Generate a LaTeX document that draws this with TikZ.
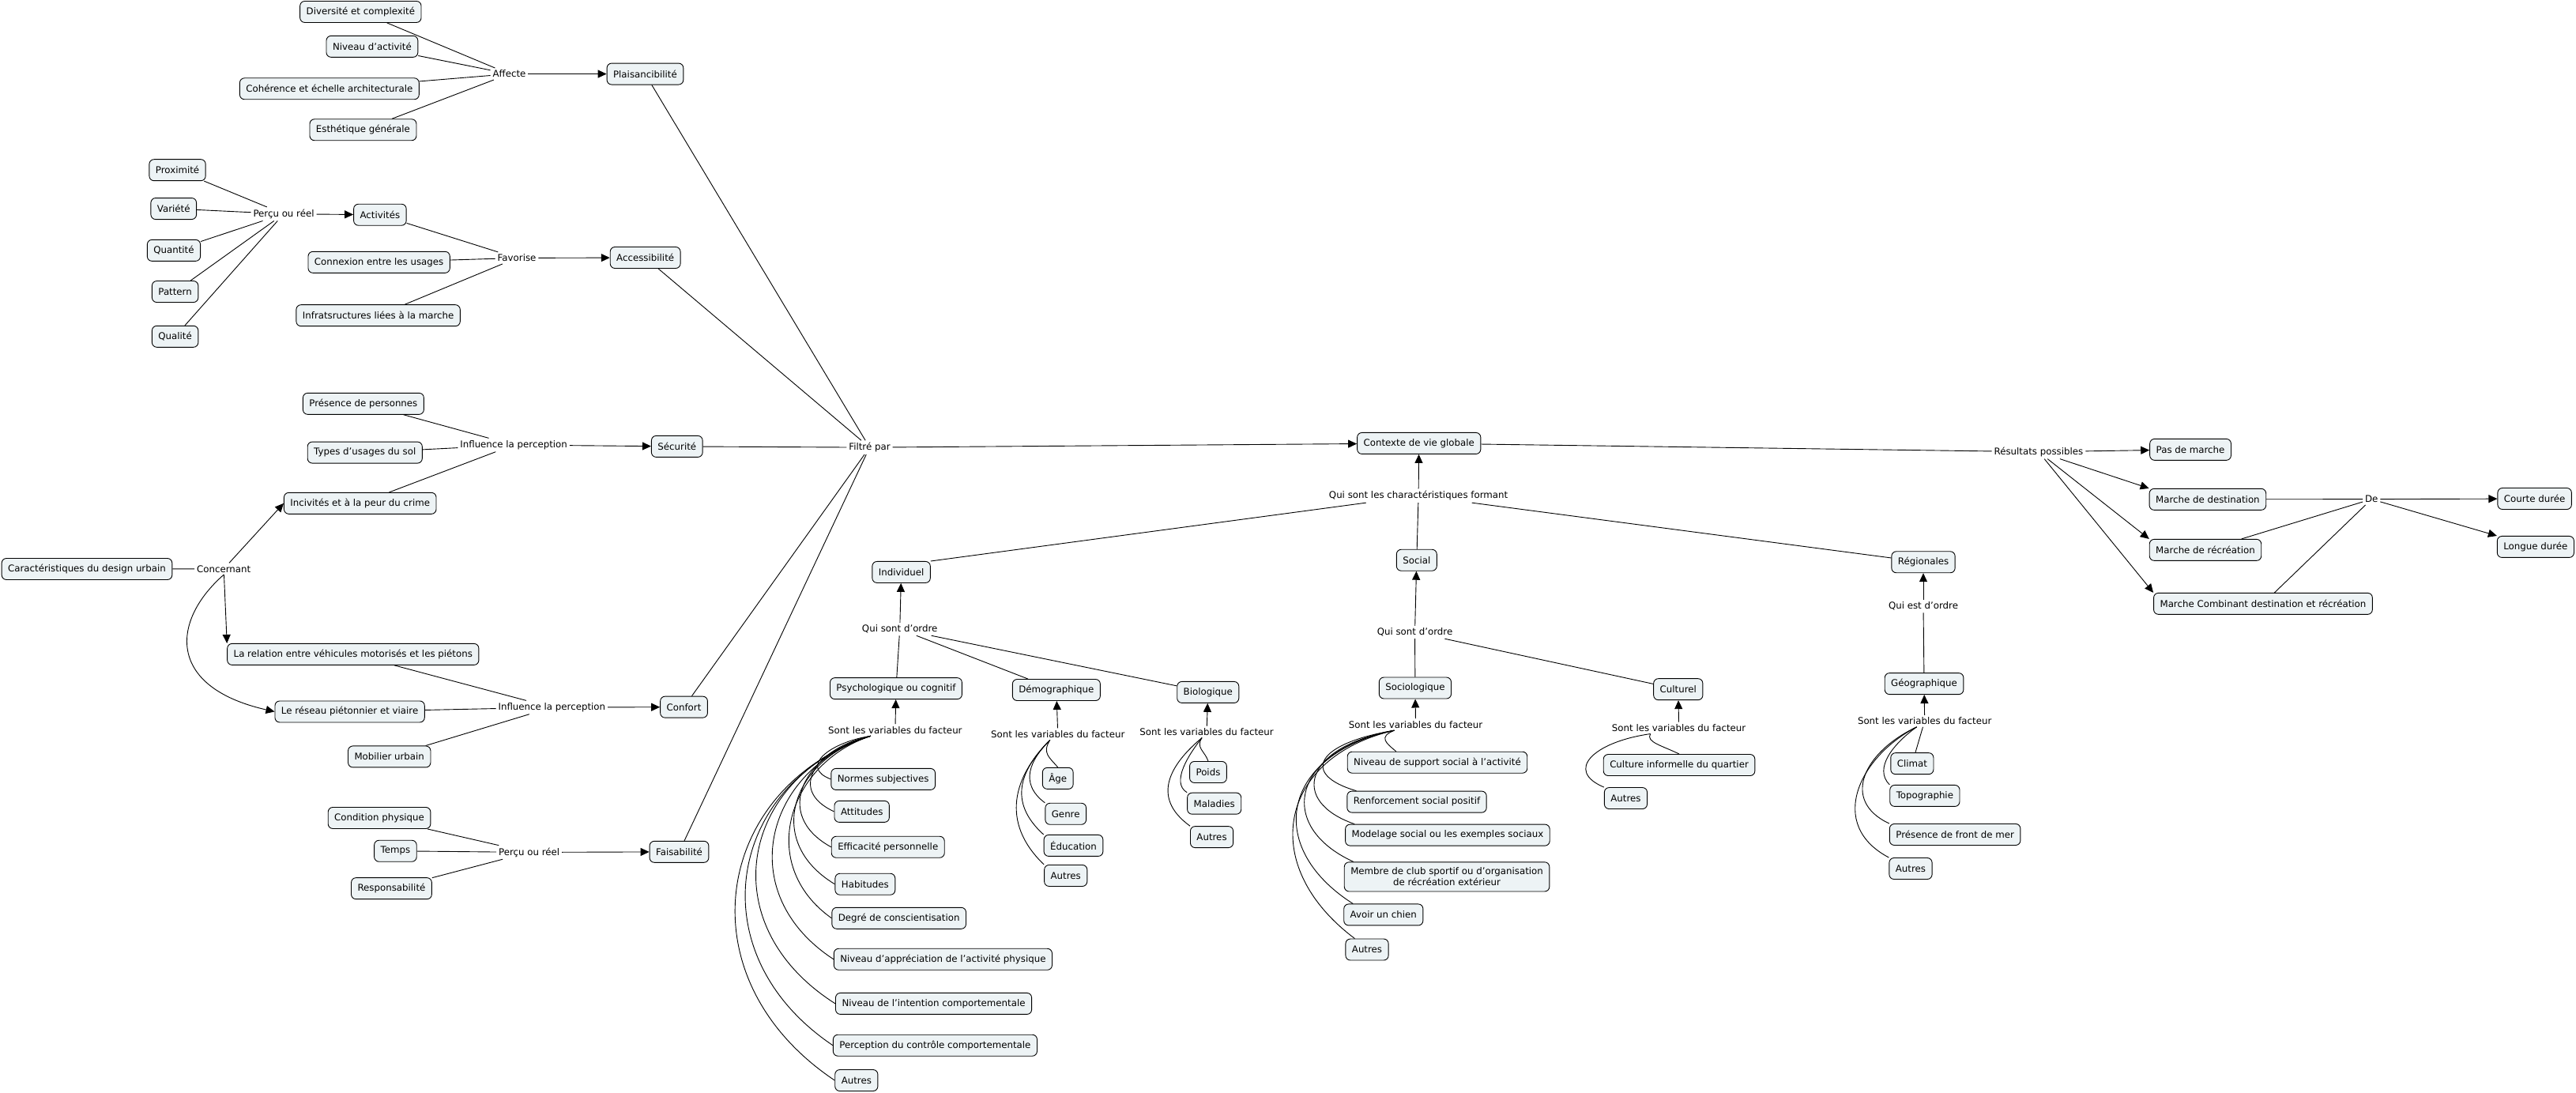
\documentclass[tikz,border=0pt]{standalone}
\usepackage{fontspec}
\setmainfont{DejaVu Sans}
\usetikzlibrary{arrows.meta}
\definecolor{boxfill}{RGB}{237,243,245}

\begin{document}
\begin{tikzpicture}[x=2.079pt,y=-2.079pt,
    font=\fontsize{11.8pt}{14pt}\selectfont,
    line width=0.9pt,
    concept/.style={draw, rounded corners=6pt, fill=boxfill, inner xsep=8pt, inner ysep=0pt, minimum height=27pt},
    link/.style={inner sep=2.5pt},
    arr/.style={-{Triangle[length=11pt,width=10pt]}}]
\useasboundingbox (0,0) rectangle (1568,665);

% plaisancibilite
\node[concept] (divers) at (219.5,7.2) {Diversité et complexité};
\node[concept] (nivact) at (226.5,28.3) {Niveau d'activité};
\node[concept] (coher) at (200.5,54) {Cohérence et échelle architecturale};
\node[concept] (esth) at (221,79) {Esthétique générale};
\node[link] (affecte) at (310,45) {Affecte};
\node[concept] (plais) at (392.7,45) {Plaisancibilité};

\foreach \n in {divers,nivact,coher,esth} \draw (\n) -- (affecte);
\draw[arr] (affecte) -- (plais);

% accessibilite
\node[concept] (proxi) at (108,103.5) {Proximité};
\node[concept] (variete) at (105.7,127) {Variété};
\node[concept] (quant) at (105.8,152.4) {Quantité};
\node[concept] (pattern) at (106.6,177.5) {Pattern};
\node[concept] (qualite) at (106.6,204.8) {Qualité};
\node[link] (percu1) at (172.7,130.2) {Perçu ou réel};
\node[concept] (activ) at (231.3,130.7) {Activités};
\node[concept] (connex) at (230.7,159.6) {Connexion entre les usages};
\node[concept] (infra) at (230.2,192) {Infratsructures liées à la marche};
\node[link] (favor) at (314.6,157) {Favorise};
\node[concept] (access) at (392.8,156.8) {Accessibilité};

\foreach \n in {proxi,variete,quant,pattern,qualite} \draw (\n) -- (percu1);
\draw[arr] (percu1) -- (activ);
\foreach \n in {activ,connex,infra} \draw (\n) -- (favor);
\draw[arr] (favor) -- (access);

% securite
\node[concept] (presence) at (221.2,245.7) {Présence de personnes};
\node[concept] (types) at (222.1,275.4) {Types d'usages du sol};
\node[concept] (inciv) at (219.2,306.3) {Incivités et à la peur du crime};
\node[link] (influ1) at (312.7,270.8) {Influence la perception};
\node[concept] (secur) at (412.1,271.7) {Sécurité};

\foreach \n in {presence,types,inciv} \draw (\n) -- (influ1);
\draw[arr] (influ1) -- (secur);

% design urbain
\node[concept] (design) at (52.9,346.3) {Caractéristiques du design urbain};
\node[link] (concern) at (136.2,346.2) {Concernant};
\node[concept] (relation) at (214.9,398.2) {La relation entre véhicules motorisés et les piétons};
\node[concept] (reseau) at (212.9,433.1) {Le réseau piétonnier et viaire};
\node[concept] (mobil) at (237,460.5) {Mobilier urbain};
\node[link] (influ2) at (335.9,430.5) {Influence la perception};
\node[concept] (confort) at (416.3,430.3) {Confort};

\draw (design) -- (concern);
\draw[arr] (concern) -- (inciv.west);
\draw[arr] (concern) -- (relation.north west);
\draw[arr] (concern.south) .. controls +(-32,28) and +(-66,-15) .. (reseau.west);
\foreach \n in {relation,reseau,mobil} \draw (\n) -- (influ2);
\draw[arr] (influ2) -- (confort);

% faisabilite
\node[concept] (condphys) at (230.9,497.8) {Condition physique};
\node[concept] (temps) at (240.7,517.9) {Temps};
\node[concept] (respons) at (238.3,540.7) {Responsabilité};
\node[link] (percu2) at (322.1,518.7) {Perçu ou réel};
\node[concept] (faisab) at (413.4,518.4) {Faisabilité};

\foreach \n in {condphys,temps,respons} \draw (\n) -- (percu2);
\draw[arr] (percu2) -- (faisab);

% contexte de vie
\node[link] (filtre) at (529.3,272.3) {Filtré par};
\node[concept] (contexte) at (863.7,269.8) {Contexte de vie globale};
\node[link] (qsc) at (863.4,301.7) {Qui sont les charactéristiques formant};
\node[concept] (indiv) at (548.6,348.2) {Individuel};
\node[concept] (social) at (862.3,340.9) {Social};
\node[concept] (region) at (1170.7,342.1) {Régionales};

\foreach \n in {plais,access,secur,confort,faisab} \draw (\n) -- (filtre);
\draw[arr] (filtre) -- (contexte);
\draw[arr] (qsc) -- (contexte);
\draw (indiv.north east) -- (qsc);
\foreach \n in {social,region} \draw (\n) -- (qsc);

% individuel
\node[link] (qso1) at (547.7,382.9) {Qui sont d'ordre};
\node[concept] (psy) at (545.4,419) {Psychologique ou cognitif};
\node[concept] (demo) at (643,419.9) {Démographique};
\node[concept] (bio) at (735.3,421.3) {Biologique};
\node[link] (svpsy) at (544.9,444.3) {Sont les variables du facteur};
\node[link] (svdem) at (643.9,446.8) {Sont les variables du facteur};
\node[link] (svbio) at (734.5,445.4) {Sont les variables du facteur};

\draw[arr] (qso1) -- (indiv);
\foreach \n in {psy,demo,bio} \draw (\n) -- (qso1);
\draw[arr] (svpsy) -- (psy);
\draw[arr] (svdem) -- (demo);
\draw[arr] (svbio) -- (bio);

\node[concept] (norm) at (537.6,474.2) {Normes subjectives};
\node[concept] (attit) at (524.6,493.9) {Attitudes};
\node[concept] (effic) at (540.5,515.5) {Efficacité personnelle};
\node[concept] (habit) at (526.6,538.1) {Habitudes};
\node[concept] (degre) at (547.2,558.8) {Degré de conscientisation};
\node[concept] (apprec) at (574,583.8) {Niveau d'appréciation de l'activité physique};
\node[concept] (intent) at (568.3,610.8) {Niveau de l'intention comportementale};
\node[concept] (percep) at (569.2,636.2) {Perception du contrôle comportementale};
\node[concept] (autpsy) at (521.3,657.5) {Autres};

\foreach \n/\ax/\ay/\bx/\by in {norm/-24.5/3.8/-19.7/-7.6, attit/-31.9/6.7/-29.5/-13.5,
    effic/-40.4/10/-36.5/-20, habit/-47/13.4/-44.2/-26.7, degre/-50.1/16.5/-46.2/-32.9,
    apprec/-64.4/20.2/-61.8/-40.4, intent/-78.6/24.3/-76.4/-48.5,
    percep/-86.9/28.1/-83.4/-56.2, autpsy/-95.3/31.3/-93.4/-62.6}
  \draw ([xshift=-31pt]svpsy.south) .. controls +(\ax,\ay) and +(\bx,\by) .. (\n.west);

\node[concept] (age) at (643.9,473.7) {Âge};
\node[concept] (genre) at (648.7,495.3) {Genre};
\node[concept] (educ) at (653.4,514.6) {Éducation};
\node[concept] (autdem) at (648.7,532.9) {Autres};

\foreach \n/\ax/\ay/\bx/\by in {age.north/-5/8/-5/-6, genre.north west/-12/12/-16/-12,
    educ.north west/-18/18/-22/-20, autdem.north west/-22/22/-27/-26}
  \draw ([xshift=-10pt]svdem.south) .. controls +(\ax,\ay) and +(\bx,\by) .. (\n);

\node[concept] (poids) at (735.4,469.9) {Poids};
\node[concept] (malad) at (739.1,489) {Maladies};
\node[concept] (autbio) at (737.6,509.4) {Autres};

\foreach \n/\ax/\ay/\bx/\by in {poids.north/-4/6/-2/-6, malad.north west/-8/10/-10/-6,
    autbio.north west/-18/15/-25/-18}
  \draw ([xshift=-6pt]svbio.south) .. controls +(\ax,\ay) and +(\bx,\by) .. (\n);

% social
\node[link] (qso2) at (861.2,384.8) {Qui sont d'ordre};
\node[concept] (socio) at (861.4,418.7) {Sociologique};
\node[concept] (cultu) at (1021.5,419.5) {Culturel};
\node[link] (svsoc) at (861.7,440.9) {Sont les variables du facteur};
\node[link] (svcul) at (1021.9,443) {Sont les variables du facteur};

\draw[arr] (qso2) -- (social);
\foreach \n in {socio,cultu} \draw (\n) -- (qso2);
\draw[arr] (svsoc) -- (socio);
\draw[arr] (svcul) -- (cultu);

\node[concept] (nss) at (874.9,464) {Niveau de support social à l'activité};
\node[concept] (renf) at (862.4,488) {Renforcement social positif};
\node[concept] (model) at (881.1,508.2) {Modelage social ou les exemples sociaux};
\node[concept, align=center, inner ysep=7pt] (membre) at (880.7,533.6) {Membre de club sportif ou d'organisation\\de récréation extérieur};
\node[concept] (chien) at (842.1,556.7) {Avoir un chien};
\node[concept] (autsoc) at (832.1,577.9) {Autres};

\draw ([xshift=-27pt]svsoc.south) .. controls +(-10,4) and +(-6,-5) .. ([xshift=62pt]nss.north west);
\foreach \n/\ax/\ay/\bx/\by in {renf/-48/8/-34/-10, model/-55/10/-40/-14,
    membre/-62/12/-48/-22, chien/-68/14/-55/-35, autsoc/-70/16/-60/-45}
  \draw ([xshift=-27pt]svsoc.south) .. controls +(\ax,\ay) and +(\bx,\by) .. ([xshift=12pt]\n.north west);

\node[concept] (cif) at (1022.1,465.6) {Culture informelle du quartier};
\node[concept] (autcul) at (989.6,485.8) {Autres};

\draw ([xshift=-36pt]svcul.south) .. controls +(-3,5) and +(-10,-5) .. (cif.north);
\draw ([xshift=-36pt]svcul.south) .. controls +(-35,5) and +(-24,-10) .. (autcul.north west);

% regionales
\node[link] (qeo) at (1170.7,369) {Qui est d'ordre};
\node[concept] (geo) at (1171.2,416.1) {Géographique};
\node[link] (svgeo) at (1171.5,438.8) {Sont les variables du facteur};

\draw[arr] (qeo) -- (region);
\draw (geo) -- (qeo);
\draw[arr] (svgeo) -- (geo);

\node[concept] (climat) at (1163.9,464.7) {Climat};
\node[concept] (topo) at (1171.6,484.3) {Topographie};
\node[concept] (front) at (1190,507.9) {Présence de front de mer};
\node[concept] (autgeo) at (1163,528.6) {Autres};

\draw (svgeo) -- (climat);
\foreach \n/\ax/\ay/\bx/\by in {topo/-14/10/-10/-10, front/-32/15/-30/-14, autgeo/-35/18/-38/-20}
  \draw ([xshift=-10pt]svgeo.south) .. controls +(\ax,\ay) and +(\bx,\by) .. (\n.north west);

% resultats
\node[link] (result) at (1240.9,275) {Résultats possibles};
\node[concept] (pasmarche) at (1333.3,273.6) {Pas de marche};
\node[concept] (mdest) at (1343.8,303.9) {Marche de destination};
\node[concept] (mrec) at (1342.4,334.7) {Marche de récréation};
\node[concept] (mcomb) at (1377.5,367.4) {Marche Combinant destination et récréation};
\node[link] (de) at (1443.5,303.8) {De};
\node[concept] (courte) at (1542.8,303.5) {Courte durée};
\node[concept] (longue) at (1543.4,332.8) {Longue durée};

\draw (contexte) -- (result);
\draw[arr] (result) -- (pasmarche);
\foreach \n in {mdest,mrec,mcomb} \draw[arr] (result) -- (\n.north west);
\foreach \n in {mdest,mrec,mcomb} \draw (\n) -- (de);
\draw[arr] (de) -- (courte);
\draw[arr] (de) -- (longue.north west);
\end{tikzpicture}
\end{document}
